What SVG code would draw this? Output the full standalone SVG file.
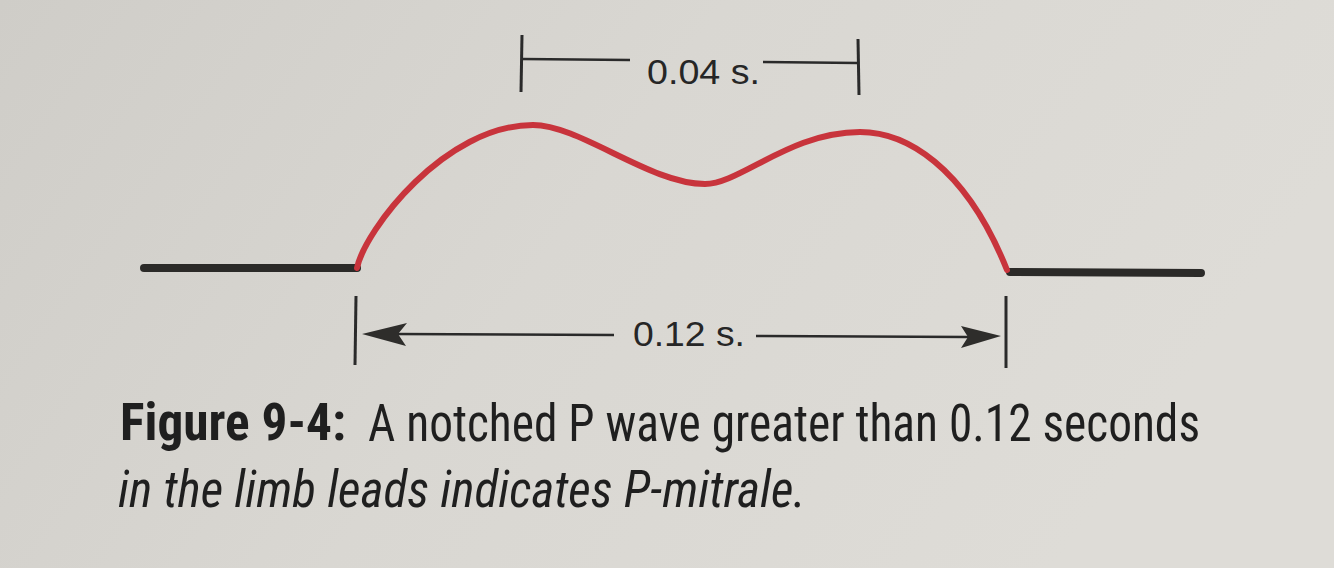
<svg xmlns="http://www.w3.org/2000/svg" width="1334" height="568" viewBox="0 0 1334 568">
<defs>
<linearGradient id="bg" x1="0" y1="0" x2="1" y2="0.3">
<stop offset="0" stop-color="#cfcdc8"/>
<stop offset="0.5" stop-color="#d9d7d2"/>
<stop offset="1" stop-color="#dedcd7"/>
</linearGradient>
<style>
.base{stroke:#2b2a28;stroke-width:8;stroke-linecap:round;fill:none}
.wave{stroke:#c8343c;stroke-width:6;fill:none;stroke-linecap:round}
.dim{stroke:#2a2a2a;stroke-width:2.5;fill:none}
.tick{stroke:#2a2a2a;stroke-width:3;fill:none}
.head{fill:#2e2d2b}
.lbl{font-family:"Liberation Sans","Roboto",sans-serif;font-size:35px;fill:#262626}
.cap{font-family:"Liberation Sans Narrow","Roboto Condensed","Liberation Sans",sans-serif;font-size:51px;fill:#1f1f1f}
.capb{font-weight:bold}
.capi{font-style:italic}
</style>
</defs>
<rect width="1334" height="568" fill="url(#bg)"/>
<g id="baseline-left"><line class="base" x1="144" y1="268" x2="357" y2="268"/></g>
<g id="baseline-right"><line class="base" x1="1010" y1="272" x2="1201" y2="273"/></g>
<g id="p-wave">
<path class="wave" d="M357,268 C365,230 445,125 533,125 C580,125 650,184 705,184 C740,184 790,132 860,132 C905,132 965,165 1007,270"/>
</g>
<g id="connectors">
<g id="dim-004">
<line class="tick" x1="522" y1="35" x2="521" y2="92"/>
<line class="dim" x1="522" y1="59" x2="630" y2="60"/>
<line class="dim" x1="763" y1="62" x2="858" y2="63"/>
<line class="tick" x1="858" y1="39" x2="859" y2="95"/>
</g>
<g id="dim-012">
<line class="tick" x1="356" y1="296" x2="355" y2="365"/>
<line class="dim" x1="395" y1="334" x2="614" y2="335"/>
<line class="dim" x1="756" y1="336" x2="968" y2="337"/>
<path class="head" d="M362,334 L407,323 L398,334 L406,346 Z"/>
<path class="head" d="M1001,336 L961,326 L968,337 L961,348 Z"/>
<line class="tick" x1="1006" y1="296" x2="1006" y2="368"/>
</g>
</g>
<g id="labels">
<text class="lbl" x="647" y="84" textLength="113" lengthAdjust="spacingAndGlyphs">0.04 s.</text>
<text class="lbl" x="633" y="346" textLength="112" lengthAdjust="spacingAndGlyphs">0.12 s.</text>
</g>
<g id="caption">
<text class="cap capb" x="120" y="440" textLength="226" lengthAdjust="spacingAndGlyphs">Figure 9-4:</text>
<text class="cap" x="368" y="441" textLength="832" lengthAdjust="spacingAndGlyphs">A notched P wave greater than 0.12 seconds</text>
<text class="cap capi" x="118" y="507" textLength="688" lengthAdjust="spacingAndGlyphs">in the limb leads indicates P-mitrale.</text>
</g>
</svg>
